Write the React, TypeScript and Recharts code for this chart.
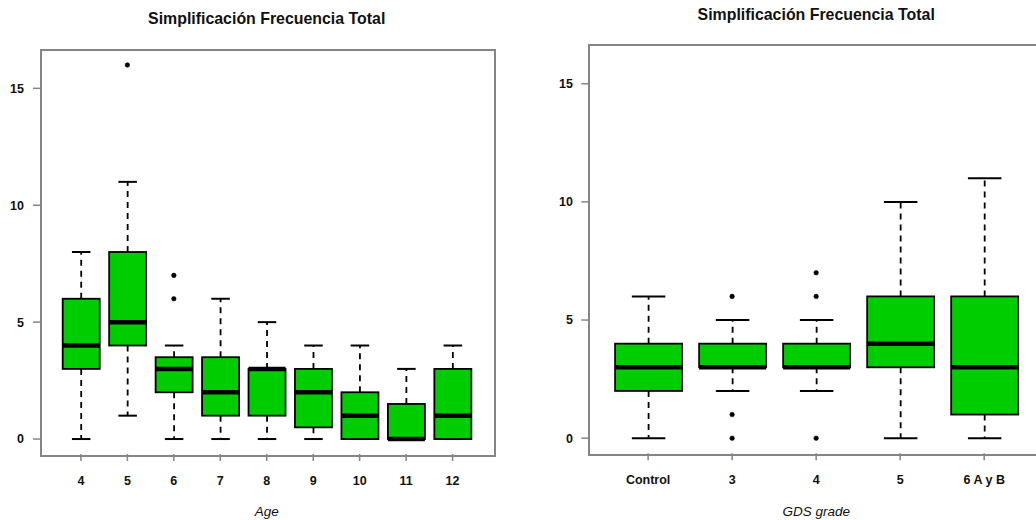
import React from 'react';
import { ComposedChart, Bar, Line, XAxis, YAxis, Label } from 'recharts';

// Age groups: five-number summaries and outliers
const ageGroups = ['4', '5', '6', '7', '8', '9', '10', '11', '12'];
const ageLow = [0, 1, 0, 0, 0, 0, 0, 0, 0];
const ageQ1 = [3, 4, 2, 1, 1, 0.5, 0, 0, 0];
const ageMedian = [4, 5, 3, 2, 3, 2, 1, 0, 1];
const ageQ3 = [6, 8, 3.5, 3.5, 3, 3, 2, 1.5, 3];
const ageHigh = [8, 11, 4, 6, 5, 4, 4, 3, 4];
const ageOutliers: number[][] = [[], [16], [6, 7], [], [], [], [], [], []];

// GDS grades: five-number summaries and outliers
const gdsGroups = ['Control', '3', '4', '5', '6 A y B'];
const gdsLow = [0, 2, 2, 0, 0];
const gdsQ1 = [2, 3, 3, 3, 1];
const gdsMedian = [3, 3, 3, 4, 3];
const gdsQ3 = [4, 4, 4, 6, 6];
const gdsHigh = [6, 5, 5, 10, 11];
const gdsOutliers: number[][] = [[], [6, 1, 0], [7, 6, 0], [], []];

const yTicks = [0, 5, 10, 15];
const yDomain: [number, number] = [-0.64, 16.64];

const FONT = '"Liberation Sans", Arial, Helvetica, sans-serif';
const BOX_FILL = '#00CD00';
const FRAME = '#858585';

function buildRows(
  groups: string[],
  low: number[],
  q1: number[],
  med: number[],
  q3: number[],
  high: number[],
  outliers: number[][]
) {
  return groups.map((group, i) => ({
    group,
    whisker: [low[i], high[i]],
    q1: q1[i],
    median: med[i],
    q3: q3[i],
    out0: outliers[i][0] ?? null,
    out1: outliers[i][1] ?? null,
    out2: outliers[i][2] ?? null,
  }));
}

const ageRows = buildRows(ageGroups, ageLow, ageQ1, ageMedian, ageQ3, ageHigh, ageOutliers);
const gdsRows = buildRows(gdsGroups, gdsLow, gdsQ1, gdsMedian, gdsQ3, gdsHigh, gdsOutliers);

// Draws one box-and-whisker glyph; the bar spans low..high, so its height gives the y scale.
const BoxShape = (props: any) => {
  const { x, y, width, height, payload } = props;
  if (x == null || y == null || !payload) return null;
  const [low, high] = payload.whisker as number[];
  const top = Math.min(y, y + height);
  const h = Math.abs(height);
  const k = high > low ? h / (high - low) : 0;
  const yOf = (v: number) => top + (high - v) * k;
  const cx = x + width / 2;
  const left = x;
  const right = x + width;
  const cap = width / 4;
  const yHigh = yOf(high);
  const yLow = yOf(low);
  const yQ1 = yOf(payload.q1);
  const yQ3 = yOf(payload.q3);
  const yMed = yOf(payload.median);
  return (
    <g>
      <line x1={cx} x2={cx} y1={yQ3} y2={yHigh} stroke="#000" strokeWidth={1.8} strokeDasharray="6 5" />
      <line x1={cx} x2={cx} y1={yQ1} y2={yLow} stroke="#000" strokeWidth={1.8} strokeDasharray="6 5" />
      <line x1={cx - cap} x2={cx + cap} y1={yHigh} y2={yHigh} stroke="#000" strokeWidth={2} />
      <line x1={cx - cap} x2={cx + cap} y1={yLow} y2={yLow} stroke="#000" strokeWidth={2} />
      <rect x={left} y={yQ3} width={width} height={Math.max(yQ1 - yQ3, 0)} fill={BOX_FILL} stroke="#000" strokeWidth={1.8} />
      <line x1={left} x2={right} y1={yMed} y2={yMed} stroke="#000" strokeWidth={4.5} />
    </g>
  );
};

const tickStyle = { fill: '#111', fontSize: 12.5, fontWeight: 'bold', fontFamily: FONT } as any;

type PanelProps = {
  rows: any[];
  left: number;
  width: number;
  margin: { top: number; right: number; bottom: number; left: number };
  yAxisWidth: number;
  xAxisHeight: number;
  xPad: number;
  barSize: number;
  yTickMargin: number;
  xLabel: string;
};

const Panel = ({ rows, left, width, margin, yAxisWidth, xAxisHeight, xPad, barSize, yTickMargin, xLabel }: PanelProps) => (
  <div style={{ position: 'absolute', left, top: 0 }}>
    <ComposedChart width={width} height={520} data={rows} margin={margin}>
      <XAxis
        dataKey="group"
        type="category"
        interval={0}
        height={xAxisHeight}
        padding={{ left: xPad, right: xPad }}
        axisLine={false}
        tickSize={7}
        tickMargin={15}
        tickLine={{ stroke: FRAME, strokeWidth: 1.5 }}
        tick={tickStyle}
      >
        <Label
          value={xLabel}
          position="insideBottom"
          offset={4.5}
          style={{ fontStyle: 'italic', fontFamily: FONT, fontSize: 13.5, fill: '#111' }}
        />
      </XAxis>
      <YAxis
        type="number"
        domain={yDomain}
        ticks={yTicks}
        allowDataOverflow
        width={yAxisWidth}
        axisLine={false}
        tickSize={8}
        tickMargin={yTickMargin}
        tickLine={{ stroke: FRAME, strokeWidth: 1.5 }}
        tick={tickStyle}
      />
      <Bar dataKey="whisker" barSize={barSize} shape={<BoxShape />} isAnimationActive={false} />
      {['out0', 'out1', 'out2'].map((key) => (
        <Line
          key={key}
          dataKey={key}
          stroke="none"
          dot={{ r: 2.3, fill: '#000', stroke: '#000', strokeWidth: 0.5 }}
          activeDot={false}
          legendType="none"
          connectNulls={false}
          isAnimationActive={false}
        />
      ))}
    </ComposedChart>
  </div>
);

const titleStyle = (cx: number, cy: number): React.CSSProperties => ({
  position: 'absolute',
  left: cx - 200,
  width: 400,
  top: cy - 10,
  height: 20,
  lineHeight: '20px',
  textAlign: 'center',
  fontFamily: FONT,
  fontWeight: 'bold',
  fontSize: 15.9,
  color: '#111',
});

const frameStyle = (l: number, t: number, r: number, b: number): React.CSSProperties => ({
  position: 'absolute',
  left: l - 1,
  top: t - 1,
  width: r - l,
  height: b - t,
  border: `2px solid ${FRAME}`,
  pointerEvents: 'none',
});

export default function App() {
  return (
    <div
      style={{
        position: 'absolute',
        left: 0,
        top: 0,
        width: 1036,
        height: 520,
        overflow: 'hidden',
        background: '#fff',
      }}
    >
      <div style={titleStyle(266.7, 19)}>Simplificación Frecuencia Total</div>
      <div style={titleStyle(816.2, 14.5)}>Simplificación Frecuencia Total</div>

      <Panel
        rows={ageRows}
        left={0}
        width={520}
        margin={{ top: 50, right: 27.5, bottom: 0, left: 0 }}
        yAxisWidth={41}
        xAxisHeight={66}
        xPad={16.7}
        barSize={37}
        yTickMargin={9}
        xLabel="Age"
      />
      <Panel
        rows={gdsRows}
        left={520}
        width={530}
        margin={{ top: 45, right: 7, bottom: 0, left: 0 }}
        yAxisWidth={69.3}
        xAxisHeight={66.7}
        xPad={16.8}
        barSize={67}
        yTickMargin={8.3}
        xLabel="GDS grade"
      />

      <div style={frameStyle(41, 50, 492.5, 454)} />
      <div style={frameStyle(589.3, 45, 1043, 453.3)} />
    </div>
  );
}
